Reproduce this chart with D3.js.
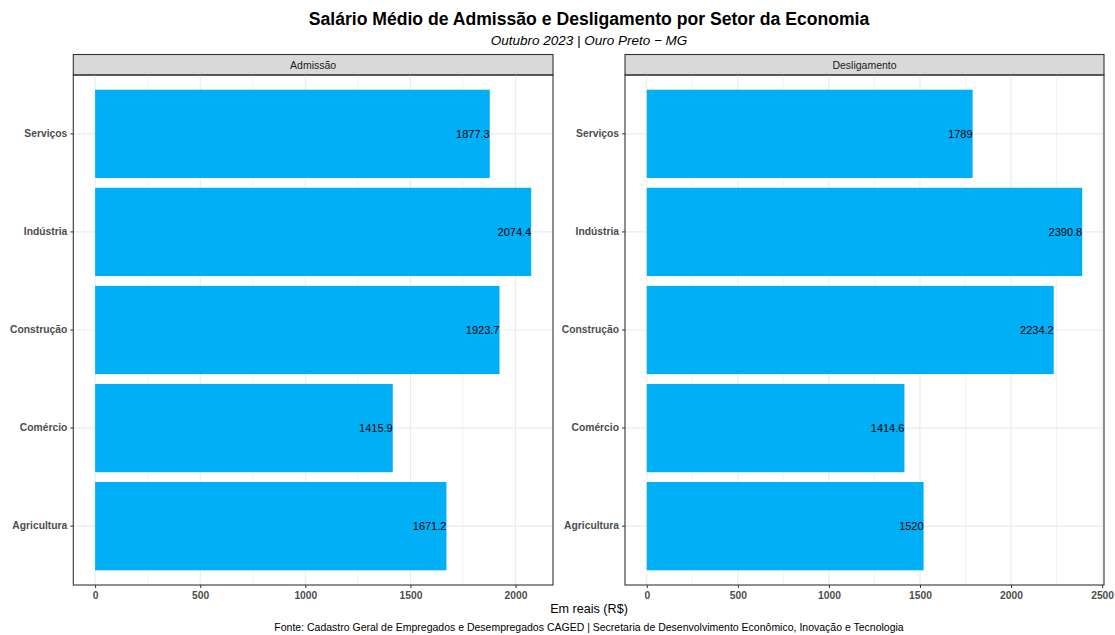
<!DOCTYPE html>
<html lang="pt">
<head>
    <meta charset="UTF-8">
    <title>Salário Médio por Setor</title>
    <style>
        body { margin: 0; background: #fff; }
        svg { font-family: "Liberation Sans", Arial, sans-serif; }
    </style>
</head>
<body>
<script src="https://d3js.org/d3.v7.min.js"></script>
<script>
    // dados
    const setores = ["Serviços", "Indústria", "Construção", "Comércio", "Agricultura"];
    const admissao = [1877.3, 2074.4, 1923.7, 1415.9, 1671.2];
    const desligamento = [1789, 2390.8, 2234.2, 1414.6, 1520];
    const facetas = ["Admissão", "Desligamento"];
    const ticksX = [0, 500, 1000, 1500, 2000, 2500];

    const W = 1115, H = 635;
    const svg = d3.select("body").append("svg")
        .attr("width", W)
        .attr("height", H);

    // titulos
    svg.append("text")
        .attr("x", 589).attr("y", 25)
        .attr("text-anchor", "middle")
        .attr("font-size", 17.6).attr("font-weight", "bold")
        .text("Salário Médio de Admissão e Desligamento por Setor da Economia");
    svg.append("text")
        .attr("x", 589).attr("y", 45)
        .attr("text-anchor", "middle")
        .attr("font-size", 13.5).attr("font-style", "italic")
        .text("Outubro 2023 | Ouro Preto \u2212 MG");

    const panels = [
        { nome: facetas[0], valores: admissao, x0: 73.3, x1: 553 },
        { nome: facetas[1], valores: desligamento, x0: 625, x1: 1104 }
    ];
    const pTop = 75, pBottom = 585, stripTop = 54.5;

    panels.forEach(p => {
        const max = d3.max(p.valores);
        const x = d3.scaleLinear()
            .domain([-max * 0.05, max * 1.05])
            .range([p.x0, p.x1]);
        const y = d3.scaleBand()
            .domain(setores)
            .range([pTop, pBottom])
            .paddingInner(0.1)
            .paddingOuter(0.15);
        const g = svg.append("g");

        // strip
        g.append("rect")
            .attr("x", p.x0).attr("y", stripTop)
            .attr("width", p.x1 - p.x0).attr("height", pTop - stripTop)
            .attr("fill", "#d9d9d9").attr("stroke", "#333").attr("stroke-width", 1.1);
        g.append("text")
            .attr("x", (p.x0 + p.x1) / 2).attr("y", stripTop + 14)
            .attr("text-anchor", "middle")
            .attr("font-size", 10.5).attr("fill", "#1a1a1a")
            .text(p.nome);

        // grade
        const ticks = ticksX.filter(t => t <= x.domain()[1]);
        const minor = d3.range(250, x.domain()[1], 500);
        g.selectAll(".minor").data(minor).enter().append("line")
            .attr("x1", d => x(d)).attr("x2", d => x(d))
            .attr("y1", pTop).attr("y2", pBottom)
            .attr("stroke", "#ebebeb").attr("stroke-width", 0.6);
        g.selectAll(".major").data(ticks).enter().append("line")
            .attr("x1", d => x(d)).attr("x2", d => x(d))
            .attr("y1", pTop).attr("y2", pBottom)
            .attr("stroke", "#ebebeb").attr("stroke-width", 1.1);
        g.selectAll(".hgrid").data(setores).enter().append("line")
            .attr("x1", p.x0).attr("x2", p.x1)
            .attr("y1", d => y(d) + y.bandwidth() / 2)
            .attr("y2", d => y(d) + y.bandwidth() / 2)
            .attr("stroke", "#ebebeb").attr("stroke-width", 1.1);

        // barras
        g.selectAll(".bar").data(setores).enter().append("rect")
            .attr("x", x(0))
            .attr("y", d => y(d))
            .attr("width", (d, i) => x(p.valores[i]) - x(0))
            .attr("height", y.bandwidth())
            .attr("fill", "#00AFF5");

        g.selectAll(".lbl").data(setores).enter().append("text")
            .attr("x", (d, i) => x(p.valores[i]))
            .attr("y", d => y(d) + y.bandwidth() / 2)
            .attr("dy", "0.36em")
            .attr("text-anchor", "end")
            .attr("font-size", 11)
            .text((d, i) => p.valores[i]);

        // borda
        g.append("rect")
            .attr("x", p.x0).attr("y", pTop)
            .attr("width", p.x1 - p.x0).attr("height", pBottom - pTop)
            .attr("fill", "none").attr("stroke", "#333").attr("stroke-width", 1.1);

        // eixos
        const ax = g.append("g")
            .attr("transform", `translate(0,${pBottom})`)
            .call(d3.axisBottom(x).tickValues(ticks).tickSize(3).tickPadding(4).tickFormat(d3.format("d")));
        const ay = g.append("g")
            .attr("transform", `translate(${p.x0},0)`)
            .call(d3.axisLeft(y).tickSize(3).tickPadding(3));
        [ax, ay].forEach(a => {
            a.select(".domain").remove();
            a.selectAll(".tick line").attr("stroke", "#333");
            a.selectAll("text")
                .attr("font-family", "Liberation Sans, Arial, sans-serif")
                .attr("font-size", 10.3).attr("font-weight", "bold").attr("fill", "#4d4d4d");
        });
    });

    svg.append("text")
        .attr("x", 589).attr("y", 613)
        .attr("text-anchor", "middle")
        .attr("font-size", 12.6)
        .text("Em reais (R$)");
    svg.append("text")
        .attr("x", 589).attr("y", 631)
        .attr("text-anchor", "middle")
        .attr("font-size", 10.5)
        .text("Fonte: Cadastro Geral de Empregados e Desempregados CAGED | Secretaria de Desenvolvimento Econômico, Inovação e Tecnologia");
</script>
</body>
</html>
